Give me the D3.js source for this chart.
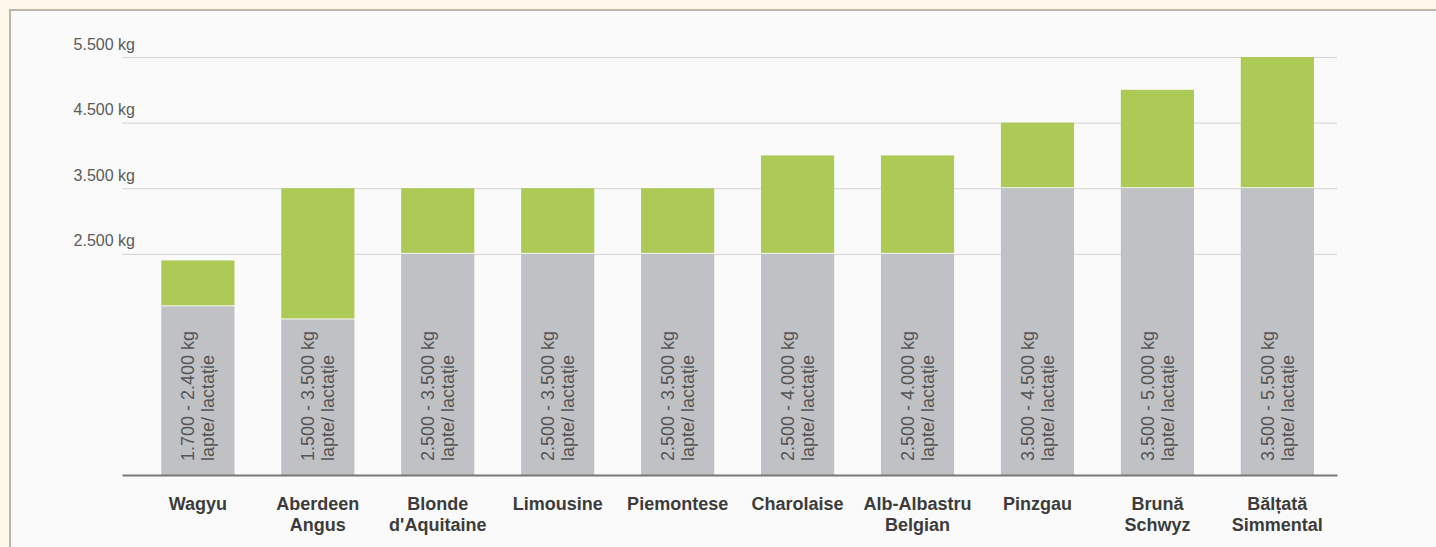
<!DOCTYPE html>
<html>
<head>
<meta charset="utf-8">
<script src="https://cdn.jsdelivr.net/npm/d3@7"></script>
<style>
  html, body { margin: 0; padding: 0; background: #fdf8e9; }
  svg { display: block; font-family: "Liberation Sans", Arial, sans-serif; }
</style>
</head>
<body>
<div id="chart"></div>
<script>
// Datasets
var breeds = [
  ["Wagyu"],
  ["Aberdeen", "Angus"],
  ["Blonde", "d'Aquitaine"],
  ["Limousine"],
  ["Piemontese"],
  ["Charolaise"],
  ["Alb-Albastru", "Belgian"],
  ["Pinzgau"],
  ["Brună", "Schwyz"],
  ["Bălțată", "Simmental"]
];
var milkMin = [1700, 1500, 2500, 2500, 2500, 2500, 2500, 3500, 3500, 3500];
var milkMax = [2400, 3500, 3500, 3500, 3500, 4000, 4000, 4500, 5000, 5500];
var yTicks = [2500, 3500, 4500, 5500];
var unitLine = "lapte/ lactație";

var width = 1436,
    height = 547;

var margin = {left: 122, right: 99, top: 57, bottom: 72};

var ro = d3.formatLocale({decimal: ",", thousands: ".", grouping: [3], currency: ["", ""]});
var fmt = ro.format(",");

var svg = d3.select("#chart").append("svg")
    .attr("width", width)
    .attr("height", height);

// panel (open at right and bottom, like the cropped picture)
svg.append("rect")
    .attr("x", 10).attr("y", 10)
    .attr("width", width + 10).attr("height", height + 10)
    .attr("fill", "#fafafa")
    .attr("stroke", "#b9b6ae")
    .attr("stroke-width", 2);

var x = d3.scaleBand()
    .domain(breeds.map(function (d) { return d.join(" "); }))
    .range([margin.left, width - margin.right])
    .paddingInner(0.39)
    .paddingOuter(0.26)
    .align(0.63);

// the baseline of the picture sits well below 0 kg
var y = d3.scaleLinear()
    .domain([-870, 5500])
    .range([height - margin.bottom, margin.top]);

var data = breeds.map(function (b, i) {
  return {name: b.join(" "), lines: b, min: milkMin[i], max: milkMax[i]};
});

// gridlines + y labels
var yAxis = svg.append("g")
    .attr("transform", "translate(" + margin.left + ",0)")
    .call(d3.axisLeft(y)
      .tickValues(yTicks)
      .tickSize(-(width - margin.right - margin.left))
      .tickFormat(function (d) { return fmt(d) + " kg"; }));
yAxis.select(".domain").remove();
yAxis.selectAll(".tick line")
    .attr("stroke", "#d4d4d4");
yAxis.selectAll(".tick text")
    .attr("x", 13)
    .attr("dy", -8)
    .attr("fill", "#5a5a5a")
    .style("font-size", "16px")
    .style("font-family", "'Liberation Sans', Arial, sans-serif");

// bars
var bars = svg.selectAll("g.bar")
    .data(data)
    .enter()
    .append("g")
    .attr("class", "bar");

bars.append("rect")
    .attr("x", function (d) { return x(d.name); })
    .attr("width", x.bandwidth())
    .attr("y", function (d) { return y(d.min); })
    .attr("height", function (d) { return y.range()[0] - y(d.min); })
    .attr("fill", "#c0c1c5");

bars.append("rect")
    .attr("x", function (d) { return x(d.name); })
    .attr("width", x.bandwidth())
    .attr("y", function (d) { return y(d.max); })
    .attr("height", function (d) { return y(d.min) - y(d.max) - 1; })
    .attr("fill", "#adc956");

var inner = bars.append("text")
    .attr("transform", function (d) {
      return "translate(" + (x(d.name) + x.bandwidth() / 2) + "," + (y.range()[0] - 14) + ") rotate(-90)";
    })
    .attr("fill", "#555")
    .style("font-size", "18px");
inner.append("tspan")
    .attr("x", 0).attr("y", -3.5)
    .text(function (d) { return fmt(d.min) + " - " + fmt(d.max) + " kg"; });
inner.append("tspan")
    .attr("x", 0).attr("y", 16.5)
    .text(unitLine);

// x axis baseline + category names
var xAxis = svg.append("g")
    .attr("transform", "translate(0," + y.range()[0] + ")")
    .call(d3.axisBottom(x).tickSize(0).tickSizeOuter(0).tickFormat(""));
xAxis.select(".domain")
    .attr("stroke", "#777")
    .attr("stroke-width", 2);

xAxis.selectAll(".tick").each(function (name, i) {
  var t = d3.select(this).select("text")
      .attr("y", 0).attr("dy", null)
      .attr("fill", "#3c3c3c")
      .style("font-size", "18px")
      .style("font-weight", "bold")
      .style("font-family", "'Liberation Sans', Arial, sans-serif");
  breeds[i].forEach(function (line, j) {
    t.append("tspan")
        .attr("x", 0)
        .attr("y", 35 + j * 20.5)
        .text(line);
  });
});
</script>
</body>
</html>
